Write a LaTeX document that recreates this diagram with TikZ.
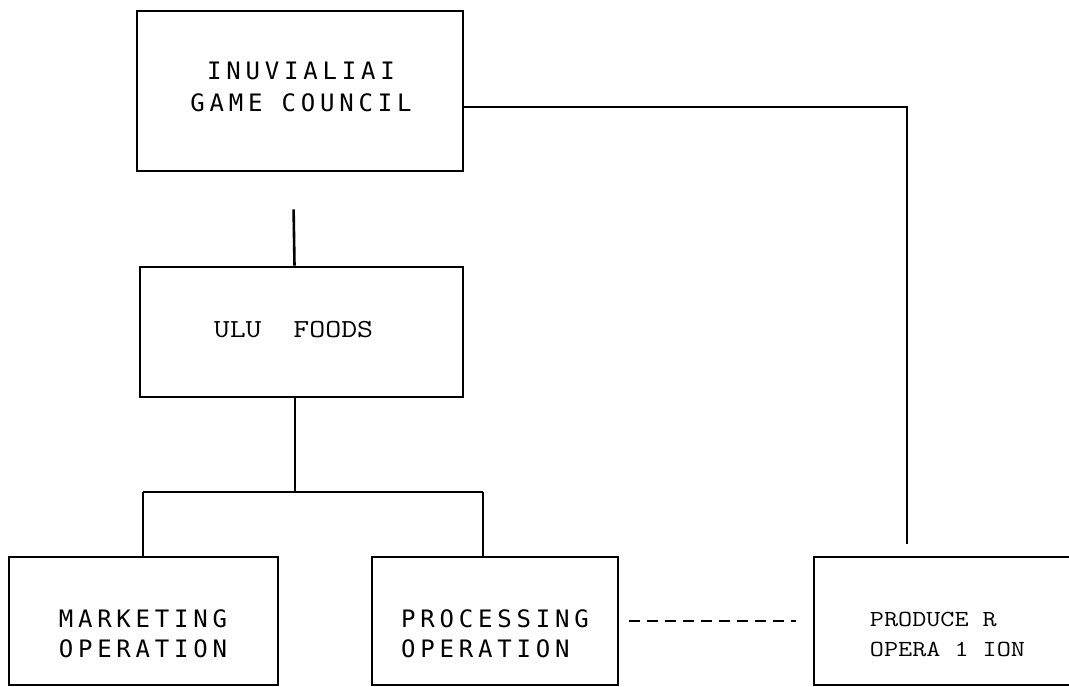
\documentclass[tikz,border=0pt]{standalone}
\usepackage{fontspec}
\newfontfamily\dotfont[LetterSpace=20]{DejaVu Sans Mono}
\newfontfamily\typefont[FakeStretch=1.19]{Latin Modern Mono}
\begin{document}
\begin{tikzpicture}[x=1pt,y=-1pt,line width=2.6pt,
  box/.style={draw,rectangle,inner sep=0pt,line width=2.6pt},
  dottext/.style={inner sep=0pt,font=\dotfont\fontsize{24}{30}\selectfont},
  typetext/.style={inner sep=0pt,font=\typefont\fontsize{23}{30}\selectfont},
  dashline/.style={line width=2.2pt,dash pattern=on 11pt off 7pt}]
\useasboundingbox (0,0) rectangle (1069,686);
% boxes
\node[box,minimum width=326pt,minimum height=160pt] (council) at (300,91) {};
\node[box,minimum width=323pt,minimum height=130pt] (ulu) at (301.5,332) {};
\node[box,minimum width=269pt,minimum height=128pt] (mkt) at (143.5,621) {};
\node[box,minimum width=246pt,minimum height=128pt] (proc) at (495,621) {};
\node[box,minimum width=267pt,minimum height=128pt] (prod) at (947.5,621) {};
% texts
\node[dottext,align=center,font=\dotfont\fontsize{24}{32}\selectfont] (councilt) at (301,86.7) {INUVIALIAI\\GAME COUNCIL};
\node[inner sep=0pt,font=\typefont\fontsize{26}{30}\selectfont] (ulut) at (293.5,329.5) {ULU~~FOODS};
\node[dottext,align=center] (mktt) at (143,634) {MARKETING\\OPERATION};
\node[dottext,align=left] (proct) at (495,634) {PROCESSING\\OPERATION};
\node[typetext,align=left] (prodt) at (947.5,634) {PRODUCE R\\OPERA 1 ION};
% connectors
\draw[shorten <=37pt] ([xshift=-7pt]council.south) -- ([xshift=-7pt]ulu.north);
\coordinate (split) at (295,492);
\coordinate (bl) at (143,492);
\coordinate (br) at (483,492);
\draw (ulu.south -| split) -- (split);
\draw (bl) -- (br);
\draw (bl) -- (mkt.north -| bl);
\draw (br) -- (proc.north -| br);
\coordinate (turn) at (907,107);
\draw[shorten >=12pt] (council.east |- turn) -- (turn) -- (prod.north -| turn);
\draw[dashline,shorten <=10pt,shorten >=17pt] (proc.east) -- (prod.west);
\end{tikzpicture}
\end{document}
